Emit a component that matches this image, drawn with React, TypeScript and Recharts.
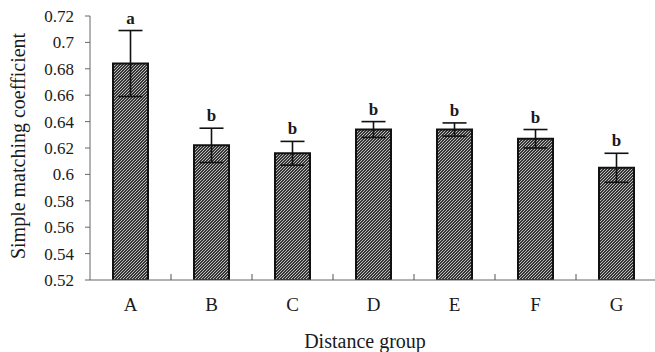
import React from 'react';
import { ComposedChart, Bar, XAxis, YAxis, ErrorBar, Scatter } from 'recharts';

const categories = ['A', 'B', 'C', 'D', 'E', 'F', 'G'];
const means = [0.684, 0.622, 0.616, 0.634, 0.634, 0.627, 0.605];
const errors = [0.025, 0.013, 0.009, 0.006, 0.005, 0.007, 0.011];
const letters = ['a', 'b', 'b', 'b', 'b', 'b', 'b'];
const yTicks = [0.52, 0.54, 0.56, 0.58, 0.6, 0.62, 0.64, 0.66, 0.68, 0.7, 0.72];

const data = categories.map((c, i) => ({
  name: c,
  value: means[i],
  err: errors[i],
  top: means[i] + errors[i],
  letter: letters[i],
}));

const FONT = '"Liberation Serif", "Times New Roman", serif';
const W = 655;
const H = 352;
const Y_AXIS_W = 90;
const M_RIGHT = -2;

const XTick = (props: any) => {
  const { x, y, payload, index } = props;
  const half = payload && payload.offset > 0 ? payload.offset : (W - Y_AXIS_W - M_RIGHT) / categories.length / 2;
  return (
    <g>
      <text x={x} y={y + 31} textAnchor="middle" fontFamily={FONT} fontSize={19} fill="#1a1a1a">
        {payload.value}
      </text>
      {index < categories.length - 1 && (
        <line x1={x + half} x2={x + half} y1={y} y2={y - 6} stroke="#555" strokeWidth={1} />
      )}
    </g>
  );
};

const LetterShape = (props: any) => {
  const { cx, cy, payload } = props;
  return (
    <text x={cx} y={cy - 7} textAnchor="middle" fontFamily={FONT} fontSize={17} fontWeight="bold" fill="#1a1a1a">
      {payload.letter}
    </text>
  );
};

export default function App() {
  return (
    <div style={{ position: 'absolute', left: 0, top: 0, background: '#fff' }}>
      <ComposedChart
        width={W}
        height={H}
        data={data}
        margin={{ top: 16, right: M_RIGHT, bottom: 0, left: 0 }}
      >
        <defs>
          <pattern id="hatch" patternUnits="userSpaceOnUse" width="3" height="3">
            <rect width="3" height="3" fill="#363636" />
            <path d="M-1,1 L1,-1 M0,3 L3,0 M2,4 L4,2" stroke="#bdbdbd" strokeWidth="1" />
          </pattern>
        </defs>
        <XAxis
          dataKey="name"
          height={72}
          tickLine={false}
          tickSize={0}
          tickMargin={0}
          axisLine={{ stroke: '#666', strokeWidth: 1 }}
          tick={<XTick />}
          interval={0}
          label={{
            content: () => (
              <text x={365} y={348} textAnchor="middle" fontFamily={FONT} fontSize={20} fill="#1a1a1a">
                Distance group
              </text>
            ),
          }}
        />
        <YAxis
          width={Y_AXIS_W}
          domain={[0.52, 0.72]}
          ticks={yTicks}
          allowDataOverflow
          tickSize={5}
          tickMargin={11}
          tickLine={{ stroke: '#666' }}
          axisLine={{ stroke: '#666', strokeWidth: 1 }}
          tickFormatter={(v: number) => String(Number(v.toFixed(2)))}
          tick={{ fontFamily: FONT, fontSize: 17, fill: '#1a1a1a' }}
          label={{
            content: () => (
              <text
                x={18}
                y={146}
                transform="rotate(-90 18 146)"
                textAnchor="middle"
                dominantBaseline="central"
                fontFamily={FONT}
                fontSize={20}
                fill="#1a1a1a"
              >
                Simple matching coefficient
              </text>
            ),
          }}
        />
        <Bar dataKey="value" barSize={35} fill="url(#hatch)" stroke="#111" strokeWidth={2} isAnimationActive={false}>
          <ErrorBar dataKey="err" width={12} stroke="#111" strokeWidth={1.6} isAnimationActive={false} />
        </Bar>
        <Scatter dataKey="top" shape={<LetterShape />} isAnimationActive={false} />
      </ComposedChart>
    </div>
  );
}
